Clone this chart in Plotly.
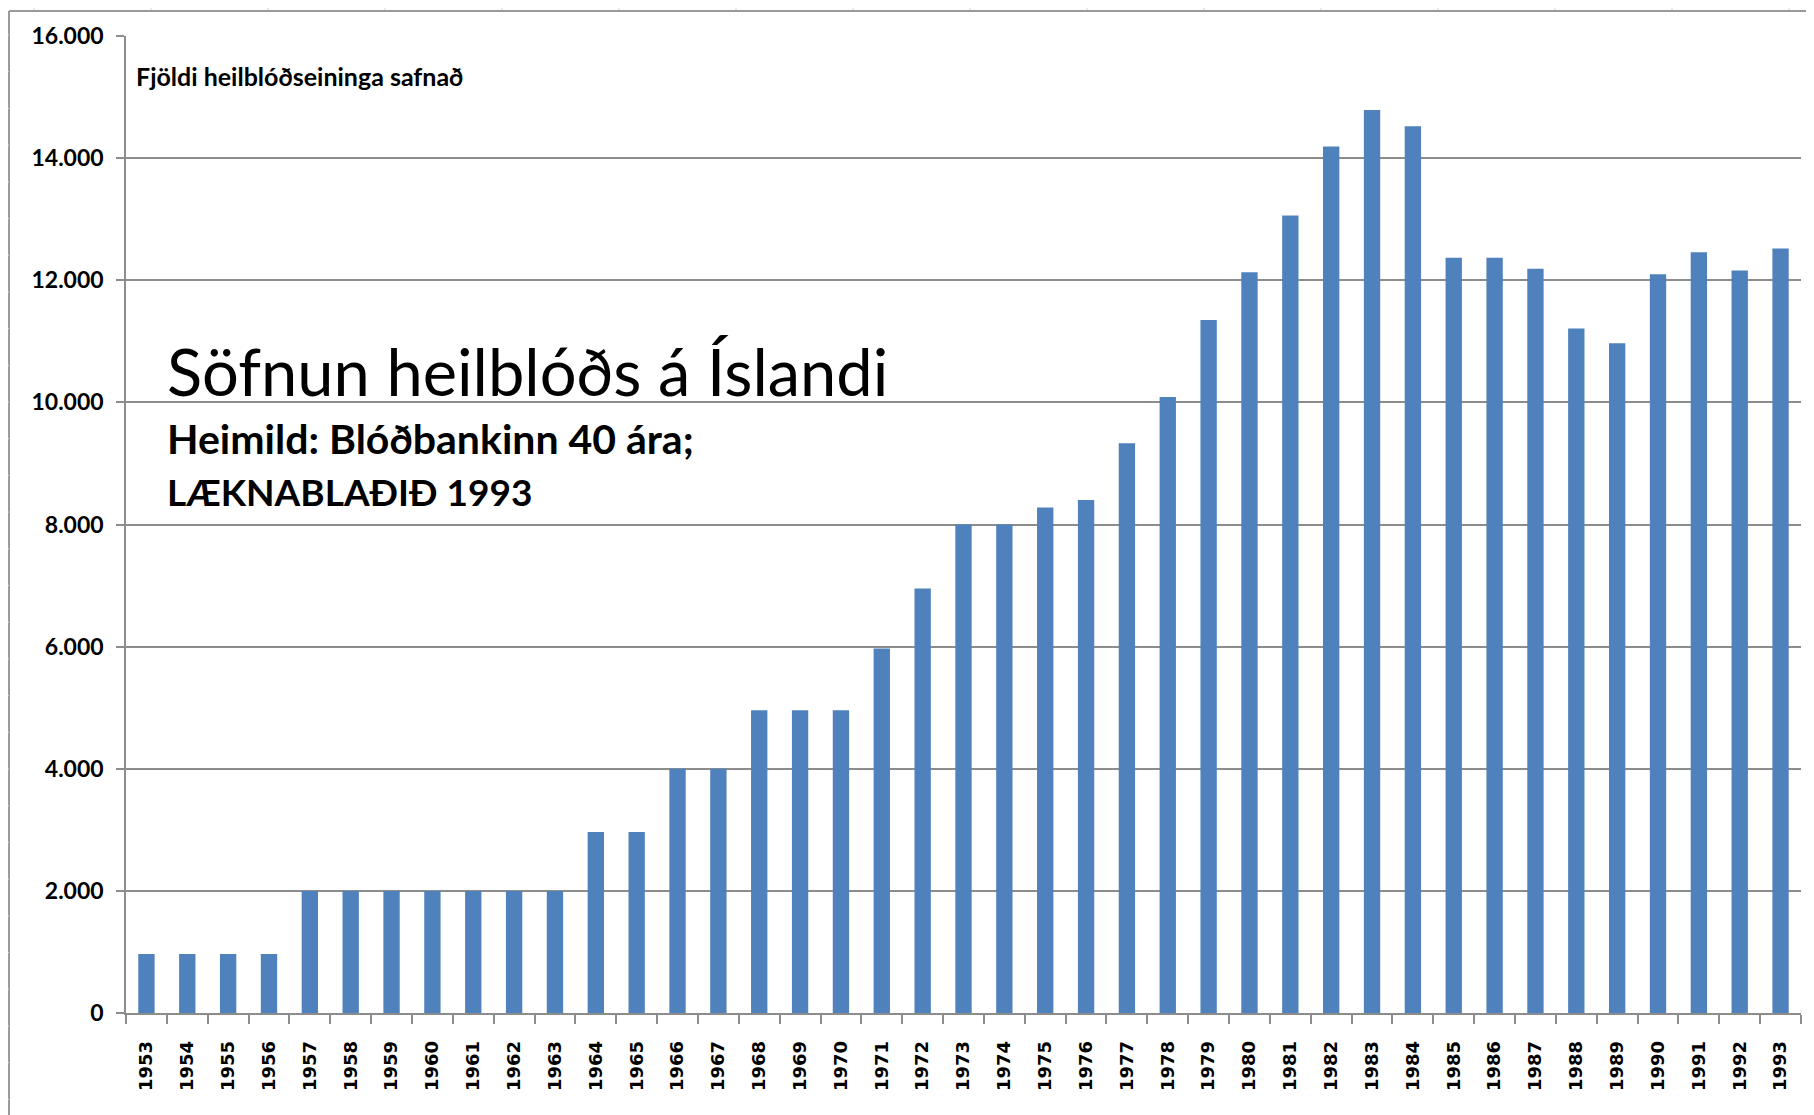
import plotly.graph_objects as go

years = [str(y) for y in range(1953, 1994)]
units = [965, 965, 965, 965, 2000, 2000, 2000, 2000, 2000, 2000, 2000,
         2965, 2965, 4000, 4000, 4960, 4960, 4960, 5970, 6950,
         8000, 8000, 8280, 8400, 9330, 10090, 11350, 12130, 13060, 14190,
         14790, 14520, 12370, 12370, 12190, 11210, 10970, 12100, 12460,
         12160, 12520]
y_tick_vals = [0, 2000, 4000, 6000, 8000, 10000, 12000, 14000, 16000]
y_tick_text = ["0", "2.000", "4.000", "6.000", "8.000", "10.000", "12.000", "14.000", "16.000"]

title_text = "Söfnun heilblóðs á Íslandi"
source_line1 = "Heimild: Blóðbankinn 40 ára;"
source_line2 = "LÆKNABLAÐIÐ 1993"
axis_caption = "Fjöldi heilblóðseininga safnað"

# page is 1814x1115 but the browser body has an 8px margin
OFF = 8
PAGE_W, PAGE_H = 1814, 1115
W, H = PAGE_W - OFF, PAGE_H - OFF
# plot area in page pixels: x 126..1801, y 36..1013
L, R, T, B = 126 - OFF, PAGE_W - 1801, 36 - OFF, PAGE_H - 1013
PW, PH = W - L - R, H - T - B


def px(x):  # page pixel -> paper
    return (x - OFF - L) / PW


def py(y):
    return 1 - (y - OFF - T) / PH


fig = go.Figure(go.Bar(
    x=years, y=units, width=0.4,
    marker=dict(color="#4F81BD", line=dict(width=0)),
))

grid_col = "#8c8c8c"
fig.update_layout(
    width=W, height=H,
    margin=dict(l=L, r=R, t=T, b=B),
    paper_bgcolor="white", plot_bgcolor="white",
    showlegend=False,
    xaxis=dict(
        type="category", showgrid=False,
        showline=True, linecolor=grid_col, linewidth=1.5,
        ticks="outside", tickson="boundaries", ticklen=9, tickcolor=grid_col, tickwidth=1.5,
        tickangle=-90,
        tickfont=dict(family="DejaVu Sans", size=18, color="black", weight="bold"),
        ticklabelstandoff=19,
        range=[-0.5, len(years) - 0.5],
    ),
    yaxis=dict(
        range=[0, 16000], tickvals=y_tick_vals, ticktext=y_tick_text,
        showgrid=True, gridcolor=grid_col, gridwidth=1.5,
        showline=True, linecolor=grid_col, linewidth=1.5,
        ticks="outside", ticklen=8, tickcolor=grid_col, tickwidth=1.5,
        tickfont=dict(family="Lato", size=23, color="black", weight="bold"),
        ticklabelstandoff=8,
        zeroline=False,
    ),
)

annots = [
    dict(text=axis_caption, x=px(134), y=py(76), size=25, weight="bold"),
    dict(text=title_text, x=px(165), y=py(371), size=65, weight="normal"),
    dict(text=source_line1, x=px(165), y=py(438), size=41, weight="bold"),
    dict(text=source_line2, x=px(165), y=py(492), size=37, weight="bold"),
]
for a in annots:
    fig.add_annotation(
        text=a["text"], x=a["x"], y=a["y"], xref="paper", yref="paper",
        xanchor="left", yanchor="middle", showarrow=False,
        font=dict(family="Lato", size=a["size"], color="black", weight=a["weight"]),
    )

# outer frame of the screenshot
frame_col = "#9a9a9a"
fig.add_shape(type="line", xref="paper", yref="paper",
              x0=px(9), x1=px(PAGE_W), y0=py(11), y1=py(11),
              line=dict(color=frame_col, width=2))
fig.add_shape(type="line", xref="paper", yref="paper",
              x0=px(9), x1=px(9), y0=py(11), y1=py(PAGE_H),
              line=dict(color=frame_col, width=2))
for i in range(16):
    xx = 34 + 117 * i
    fig.add_shape(type="line", xref="paper", yref="paper",
                  x0=px(xx), x1=px(xx), y0=py(8), y1=py(10),
                  line=dict(color="#c9d1e3", width=1))
yy = 35.0
while yy < PAGE_H:
    fig.add_shape(type="line", xref="paper", yref="paper",
                  x0=px(8), x1=px(9), y0=py(yy), y1=py(yy),
                  line=dict(color="#d3d6de", width=1))
    yy += 36.7

fig.write_html("out.html")
